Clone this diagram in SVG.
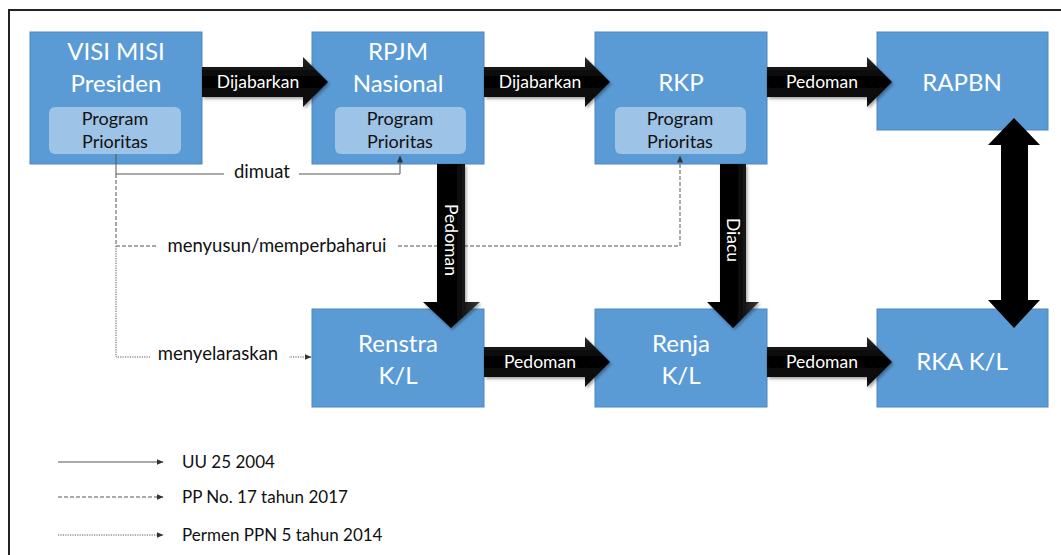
<svg xmlns="http://www.w3.org/2000/svg" width="1061" height="555" viewBox="0 0 1061 555">
<style>
  .box{fill:#5B9BD5;stroke:#4A87C2;stroke-width:1}
  .inner{fill:#9DC3E6;stroke:none}
  .title{font-family:Lato,"Liberation Sans",sans-serif;font-size:24px;fill:#fff;text-anchor:middle}
  .prog{font-family:Lato,"Liberation Sans",sans-serif;font-size:18px;fill:#111;text-anchor:middle}
  .alabel{font-family:Lato,"Liberation Sans",sans-serif;font-size:17.5px;fill:#fff;text-anchor:middle}
  .clabel{font-family:Lato,"Liberation Sans",sans-serif;font-size:18.5px;fill:#111;text-anchor:middle}
  .leg{font-family:Lato,"Liberation Sans",sans-serif;font-size:17px;fill:#111}
  .thin{fill:none;stroke:#555;stroke-width:1}
  .dash{stroke-dasharray:4 2}
  .dot{stroke-dasharray:1.2 1.2}
  .harrow{fill:url(#gh);filter:url(#sh)}
  .varrow{fill:url(#gv);filter:url(#sh)}
</style>
<defs>
  <linearGradient id="gh" x1="0" y1="0" x2="0" y2="1">
    <stop offset="0" stop-color="#2a2a2a"/>
    <stop offset="0.45" stop-color="#000"/>
    <stop offset="1" stop-color="#151515"/>
  </linearGradient>
  <linearGradient id="gv" x1="0" y1="0" x2="1" y2="0">
    <stop offset="0" stop-color="#000"/>
    <stop offset="0.55" stop-color="#000"/>
    <stop offset="1" stop-color="#3a3a3a"/>
  </linearGradient>
  <filter id="sh" x="-20%" y="-20%" width="140%" height="140%">
    <feDropShadow dx="1.5" dy="2" stdDeviation="1.5" flood-color="#000" flood-opacity="0.35"/>
  </filter>
  <marker id="ah" markerWidth="7" markerHeight="6" refX="6.5" refY="3" orient="auto" markerUnits="userSpaceOnUse">
    <path d="M0,0 L7,3 L0,6 Z" fill="#333"/>
  </marker>
</defs>

<rect width="1061" height="555" fill="#fff"/>
<path d="M9,555 V10 H1061" fill="none" stroke="#222" stroke-width="2"/>

<g id="node-visi">
  <rect class="box" x="30" y="32" width="172" height="132"/>
  <text class="title" x="116" y="60">VISI MISI</text>
  <text class="title" x="116" y="92">Presiden</text>
  <rect class="inner" x="49" y="107" width="132" height="47" rx="6"/>
  <text class="prog" x="115" y="125">Program</text>
  <text class="prog" x="115" y="148">Prioritas</text>
</g>
<g id="node-rpjm">
  <rect class="box" x="312" y="32" width="172" height="132"/>
  <text class="title" x="398" y="60">RPJM</text>
  <text class="title" x="398" y="92">Nasional</text>
  <rect class="inner" x="335" y="107" width="131" height="47" rx="6"/>
  <text class="prog" x="400" y="125">Program</text>
  <text class="prog" x="400" y="148">Prioritas</text>
</g>
<g id="node-rkp">
  <rect class="box" x="595" y="32" width="172" height="132"/>
  <text class="title" x="681" y="91">RKP</text>
  <rect class="inner" x="615" y="107" width="131" height="47" rx="6"/>
  <text class="prog" x="680" y="125">Program</text>
  <text class="prog" x="680" y="148">Prioritas</text>
</g>
<g id="node-rapbn">
  <rect class="box" x="877" y="32" width="171" height="98"/>
  <text class="title" x="962" y="91">RAPBN</text>
</g>
<g id="node-renstra">
  <rect class="box" x="312" y="309" width="172" height="98"/>
  <text class="title" x="398" y="352">Renstra</text>
  <text class="title" x="398" y="384">K/L</text>
</g>
<g id="node-renja">
  <rect class="box" x="595" y="309" width="172" height="98"/>
  <text class="title" x="681" y="352">Renja</text>
  <text class="title" x="681" y="384">K/L</text>
</g>
<g id="node-rka">
  <rect class="box" x="877" y="309" width="171" height="98"/>
  <text class="title" x="962" y="370">RKA K/L</text>
</g>

<g id="connectors">
  <path class="thin" d="M116,154 V174 H400 V156" marker-end="url(#ah)"/>
  <path class="thin dash" d="M116,174 V246 H680 V156" marker-end="url(#ah)"/>
  <path class="thin dot" d="M116,246 V357 H311" marker-end="url(#ah)"/>
  <rect x="224" y="162" width="75" height="24" fill="#fff"/>
  <text class="clabel" x="262" y="178">dimuat</text>
  <rect x="157" y="234" width="241" height="24" fill="#fff"/>
  <text class="clabel" x="277" y="252">menyusun/memperbaharui</text>
  <rect x="150" y="344" width="139" height="24" fill="#fff"/>
  <text class="clabel" x="218" y="360">menyelaraskan</text>

  <path class="harrow" d="M202,67 H303 V57 L328,82 L303,107 V97 H202 Z"/>
  <text class="alabel" x="258" y="88">Dijabarkan</text>
  <path class="harrow" d="M484,67 H585 V57 L610,82 L585,107 V97 H484 Z"/>
  <text class="alabel" x="540" y="88">Dijabarkan</text>
  <path class="harrow" d="M767,67 H867 V57 L892,82 L867,107 V97 H767 Z"/>
  <text class="alabel" x="822" y="88">Pedoman</text>
  <path class="harrow" d="M484,347 H585 V337 L610,362 L585,387 V377 H484 Z"/>
  <text class="alabel" x="540" y="368">Pedoman</text>
  <path class="harrow" d="M767,347 H867 V337 L892,362 L867,387 V377 H767 Z"/>
  <text class="alabel" x="822" y="368">Pedoman</text>

  <path class="varrow" d="M437,164 H465 V302 H480 L451,328 L423,302 H437 Z"/>
  <text class="alabel" transform="translate(451,240) rotate(90)" y="6">Pedoman</text>
  <path class="varrow" d="M720,164 H746 V302 H759 L733,328 L707,302 H720 Z"/>
  <text class="alabel" transform="translate(733,240) rotate(90)" y="6">Diacu</text>

  <path d="M1014,118 L1040,145 H1028 V300 H1040 L1014,328 L988,300 H1001 V145 H988 Z" fill="#000"/>
</g>

<g id="legend">
  <path class="thin" d="M58,462 H163" marker-end="url(#ah)"/>
  <text class="leg" x="182" y="468">UU 25 2004</text>
  <path class="thin dash" d="M58,497 H163" marker-end="url(#ah)"/>
  <text class="leg" x="182" y="503">PP No. 17 tahun 2017</text>
  <path class="thin dot" d="M58,535 H163" marker-end="url(#ah)"/>
  <text class="leg" x="182" y="541">Permen PPN 5 tahun 2014</text>
</g>
</svg>
